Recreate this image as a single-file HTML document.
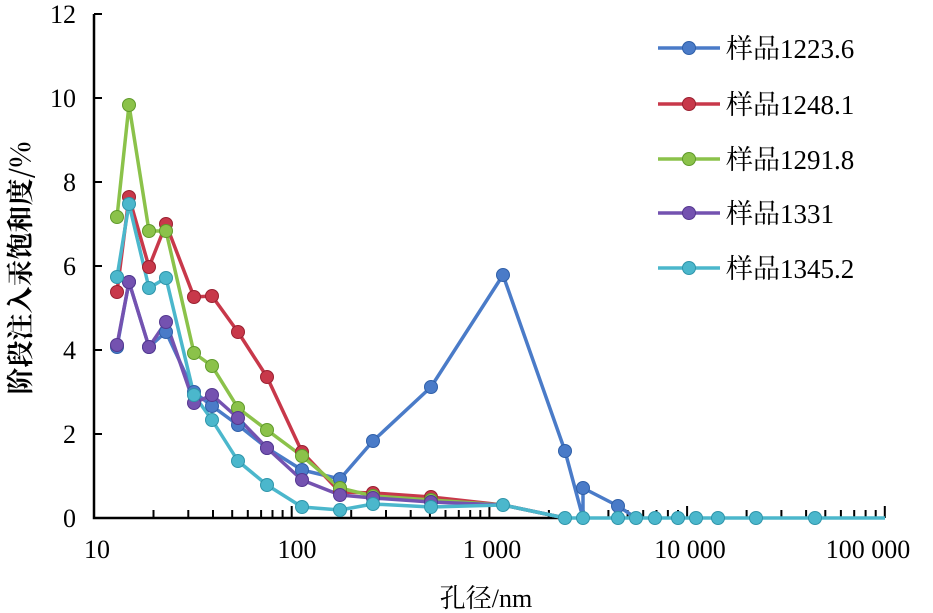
<!DOCTYPE html>
<html><head><meta charset="utf-8"><style>body{margin:0;background:#fff}svg{display:block}</style></head><body>
<svg width="933" height="613" xmlns="http://www.w3.org/2000/svg" font-family="'Liberation Serif','Noto Serif CJK SC',serif">
<path d="M94,14V518H885" stroke="#000" stroke-width="2.5" fill="none"/>
<g stroke="#000" stroke-width="2">
<path d="M94,14h8M94,98h8M94,182h8M94,266h8M94,350h8M94,434h8"/>
<path d="M153.5,518v-8M188.3,518v-8M213,518v-8M232.2,518v-8M247.8,518v-8M261.1,518v-8M272.5,518v-8M282.6,518v-8M291.7,518v-12M351.2,518v-8M386,518v-8M410.7,518v-8M429.9,518v-8M445.5,518v-8M458.8,518v-8M470.2,518v-8M480.3,518v-8M489.4,518v-12M548.9,518v-8M583.7,518v-8M608.4,518v-8M627.6,518v-8M643.2,518v-8M656.5,518v-8M667.9,518v-8M678,518v-8M687.1,518v-12M746.6,518v-8M781.4,518v-8M806.1,518v-8M825.3,518v-8M840.9,518v-8M854.2,518v-8M865.6,518v-8M875.7,518v-8M884.8,518v-12"/>
</g>
<g font-size="26" text-anchor="end" fill="#000">
<text x="76" y="23">12</text><text x="76" y="107">10</text><text x="76" y="191">8</text><text x="76" y="275">6</text><text x="76" y="359">4</text><text x="76" y="443">2</text><text x="76" y="527">0</text>
</g>
<g font-size="26" text-anchor="middle" fill="#000">
<text x="97" y="558">10</text><text x="297" y="558">100</text><text x="492" y="558">1 000</text><text x="690" y="558">10 000</text><text x="868" y="558">100 000</text>
<text x="486" y="607">孔径/nm</text>
</g>
<text transform="translate(30,268) rotate(-90)" font-size="27" text-anchor="middle" font-weight="bold" font-family="'Noto Serif CJK SC',serif">阶段注入汞饱和度/%</text>
<g stroke-width="3.5" fill="none" stroke-linejoin="round">
<polyline stroke="#4a7bc8" points="117,347 129,282 149,347 166,332 194,392 212,406 238,425 267,448 302,470 340,479 373,441 431,387 503,275 565,451 583,518 583,488 618,506 636,518"/>
<polyline stroke="#c8384a" points="117,292 129,197 149,267 166,224 194,297 212,296 238,332 267,377 302,452 340,492 373,493 431,497 503,505 565,518"/>
<polyline stroke="#8bc24a" points="117,217 129,105 149,231 166,231 194,353 212,366 238,408 267,430 302,456 340,488 373,496 431,500 503,505 565,518"/>
<polyline stroke="#7452b0" points="117,345 129,282 149,347 166,322 194,403 212,395 238,418 267,448 302,480 340,495 373,498 431,502 503,505 565,518"/>
<polyline stroke="#4bb7cc" points="117,277 129,204 149,288 166,278 194,395 212,420 238,461 267,485 302,507 340,510 373,504 431,507 503,505 565,518 885,518"/>
<line x1="658" x2="720" y1="48" y2="48" stroke="#4a7bc8"/>
<line x1="658" x2="720" y1="104" y2="104" stroke="#c8384a"/>
<line x1="658" x2="720" y1="159" y2="159" stroke="#8bc24a"/>
<line x1="658" x2="720" y1="213" y2="213" stroke="#7452b0"/>
<line x1="658" x2="720" y1="268" y2="268" stroke="#4bb7cc"/>
</g>
<g fill="#4a7bc8" stroke="#2f5fa8" stroke-width="1">
<circle cx="117" cy="347" r="6.5"/><circle cx="129" cy="282" r="6.5"/><circle cx="149" cy="347" r="6.5"/><circle cx="166" cy="332" r="6.5"/><circle cx="194" cy="392" r="6.5"/><circle cx="212" cy="406" r="6.5"/><circle cx="238" cy="425" r="6.5"/><circle cx="267" cy="448" r="6.5"/><circle cx="302" cy="470" r="6.5"/><circle cx="340" cy="479" r="6.5"/><circle cx="373" cy="441" r="6.5"/><circle cx="431" cy="387" r="6.5"/><circle cx="503" cy="275" r="6.5"/><circle cx="565" cy="451" r="6.5"/><circle cx="583" cy="488" r="6.5"/><circle cx="618" cy="506" r="6.5"/><circle cx="689" cy="48" r="6.5"/>
</g>
<g fill="#c8384a" stroke="#9a2030" stroke-width="1">
<circle cx="117" cy="292" r="6.5"/><circle cx="129" cy="197" r="6.5"/><circle cx="149" cy="267" r="6.5"/><circle cx="166" cy="224" r="6.5"/><circle cx="194" cy="297" r="6.5"/><circle cx="212" cy="296" r="6.5"/><circle cx="238" cy="332" r="6.5"/><circle cx="267" cy="377" r="6.5"/><circle cx="302" cy="452" r="6.5"/><circle cx="340" cy="492" r="6.5"/><circle cx="373" cy="493" r="6.5"/><circle cx="431" cy="497" r="6.5"/><circle cx="689" cy="104" r="6.5"/>
</g>
<g fill="#8bc24a" stroke="#5f9a2a" stroke-width="1">
<circle cx="117" cy="217" r="6.5"/><circle cx="129" cy="105" r="6.5"/><circle cx="149" cy="231" r="6.5"/><circle cx="166" cy="231" r="6.5"/><circle cx="194" cy="353" r="6.5"/><circle cx="212" cy="366" r="6.5"/><circle cx="238" cy="408" r="6.5"/><circle cx="267" cy="430" r="6.5"/><circle cx="302" cy="456" r="6.5"/><circle cx="340" cy="488" r="6.5"/><circle cx="373" cy="496" r="6.5"/><circle cx="431" cy="500" r="6.5"/><circle cx="689" cy="159" r="6.5"/>
</g>
<g fill="#7452b0" stroke="#553890" stroke-width="1">
<circle cx="117" cy="345" r="6.5"/><circle cx="129" cy="282" r="6.5"/><circle cx="149" cy="347" r="6.5"/><circle cx="166" cy="322" r="6.5"/><circle cx="194" cy="403" r="6.5"/><circle cx="212" cy="395" r="6.5"/><circle cx="238" cy="418" r="6.5"/><circle cx="267" cy="448" r="6.5"/><circle cx="302" cy="480" r="6.5"/><circle cx="340" cy="495" r="6.5"/><circle cx="373" cy="498" r="6.5"/><circle cx="431" cy="502" r="6.5"/><circle cx="689" cy="213" r="6.5"/>
</g>
<g fill="#4bb7cc" stroke="#2f95aa" stroke-width="1">
<circle cx="117" cy="277" r="6.5"/><circle cx="129" cy="204" r="6.5"/><circle cx="149" cy="288" r="6.5"/><circle cx="166" cy="278" r="6.5"/><circle cx="194" cy="395" r="6.5"/><circle cx="212" cy="420" r="6.5"/><circle cx="238" cy="461" r="6.5"/><circle cx="267" cy="485" r="6.5"/><circle cx="302" cy="507" r="6.5"/><circle cx="340" cy="510" r="6.5"/><circle cx="373" cy="504" r="6.5"/><circle cx="431" cy="507" r="6.5"/><circle cx="503" cy="505" r="6.5"/><circle cx="565" cy="518" r="6.5"/><circle cx="583" cy="518" r="6.5"/><circle cx="618" cy="518" r="6.5"/><circle cx="636" cy="518" r="6.5"/><circle cx="655" cy="518" r="6.5"/><circle cx="678" cy="518" r="6.5"/><circle cx="696" cy="518" r="6.5"/><circle cx="718" cy="518" r="6.5"/><circle cx="756" cy="518" r="6.5"/><circle cx="815" cy="518" r="6.5"/><circle cx="689" cy="268" r="6.5"/>
</g>
<g font-size="27" fill="#000">
<text x="726" y="58">样品1223.6</text><text x="726" y="114">样品1248.1</text><text x="726" y="169">样品1291.8</text><text x="726" y="223">样品1331</text><text x="726" y="278">样品1345.2</text>
</g>
</svg>
</body></html>
